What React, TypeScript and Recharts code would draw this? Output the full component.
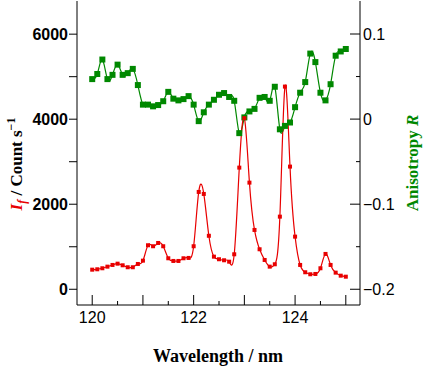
import { ComposedChart, Label, Line, XAxis, YAxis } from 'recharts';

const wavelength = [
    120.0, 120.1, 120.2, 120.3, 120.4, 120.5, 120.6, 120.7, 120.8, 120.9,
    121.0, 121.1, 121.2, 121.3, 121.4, 121.5, 121.6, 121.7, 121.8, 121.9,
    122.0, 122.1, 122.2, 122.3, 122.4, 122.5, 122.6, 122.7, 122.8, 122.9,
    123.0, 123.1, 123.2, 123.3, 123.4, 123.5, 123.6, 123.7, 123.8, 123.9,
    124.0, 124.1, 124.2, 124.3, 124.4, 124.5, 124.6, 124.7, 124.8, 124.9,
    125.0,
];

// fluorescence intensity, counts per second
const intensity = [
    461, 470, 494, 532, 572, 602, 564, 518, 518, 595,
    673, 1035, 1012, 1089, 1012, 729, 666, 666, 729, 737,
    1012, 2289, 2242, 1258, 767, 706, 682, 649, 823, 2861,
    4024, 2508, 1395, 941, 689, 532, 588, 1708, 4767, 2885,
    1238, 572, 400, 353, 360, 494, 831, 572, 391, 320,
    296,
];

const anisotropy = [
    0.047, 0.053, 0.07, 0.047, 0.052, 0.064, 0.052, 0.054, 0.059, 0.04,
    0.017, 0.017, 0.015, 0.0165, 0.021, 0.032, 0.024, 0.022, 0.0235, 0.027,
    0.017, -0.0024, 0.008, 0.017, 0.0227, 0.0286, 0.0306, 0.026, 0.0215, -0.0165,
    0.002, 0.009, 0.012, 0.025, 0.026, 0.0215, 0.038, -0.012, -0.008, -0.004,
    0.014, 0.031, 0.0435, 0.077, 0.067, 0.031, 0.022, 0.041, 0.0745, 0.0795,
    0.0824,
];

const xTicks = [120, 120.5, 121, 121.5, 122, 122.5, 123, 123.5, 124, 124.5, 125];
const xMajor = [120, 121, 122, 123, 124, 125];
const xLabels = [120, 122, 124];
const leftTicks = [0, 1000, 2000, 3000, 4000, 5000, 6000];
const leftLabels = [0, 2000, 4000, 6000];
const rightTicks = [-0.2, -0.15, -0.1, -0.05, 0, 0.05, 0.1];
const rightLabels = [-0.2, -0.1, 0, 0.1];

const data = wavelength.map((wl, i) => ({
    wl,
    intensity: intensity[i],
    anisotropy: anisotropy[i],
}));

const RED = '#e80000';
const GREEN = '#008800';
const SANS = 'Liberation Sans, Arial, sans-serif';
const SERIF = 'Liberation Serif, Times New Roman, serif';

const has = (list: number[], v: number) => list.some((b) => Math.abs(b - v) < 1e-6);

const fmtRight = (v: number) => (Math.abs(v) < 1e-9 ? '0' : v < 0 ? `\u2212${Math.abs(v)}` : `${v}`);

function BottomTick({ x, y, payload }: any) {
    const v = payload.value;
    const major = has(xMajor, v);
    return (
        <g>
            <line x1={x} x2={x} y1={y} y2={y - (major ? 10 : 4)} stroke="#000" />
            {has(xLabels, v) && (
                <text x={x} y={y + 18} textAnchor="middle" fontFamily={SANS} fontSize={16} fill="#000">
                    {v}
                </text>
            )}
        </g>
    );
}

function TopTick({ x, y, payload }: any) {
    const major = has(xMajor, payload.value);
    return <line x1={x} x2={x} y1={y} y2={y + (major ? 11 : 5)} stroke="#000" />;
}

function LeftTick({ x, y, payload }: any) {
    const v = payload.value;
    return (
        <g>
            <line x1={x - 8} x2={x} y1={y} y2={y} stroke="#000" />
            {has(leftLabels, v) && (
                <text x={x - 9} y={y + 6} textAnchor="end" fontFamily={SANS} fontWeight="bold" fontSize={16} fill="#000">
                    {v}
                </text>
            )}
        </g>
    );
}

function RightTick({ x, y, payload }: any) {
    const v = payload.value;
    const major = has(rightLabels, v);
    return (
        <g>
            <line x1={x - (major ? 10 : 4)} x2={x} y1={y} y2={y} stroke="#000" />
            {major && (
                <text x={x + 3} y={y + 6} textAnchor="start" fontFamily={SANS} fontSize={16} fill="#000">
                    {fmtRight(v)}
                </text>
            )}
        </g>
    );
}

const LeftTitle = () => (
    <text
        transform="translate(22, 164) rotate(-90)"
        x={0}
        y={0}
        textAnchor="middle"
        fontFamily={SERIF}
        fontWeight="bold"
        fontSize={17}
        fill="#000"
    >
        <tspan fill={RED} fontStyle="italic">I</tspan>
        <tspan fill={RED} fontStyle="italic" fontSize={12} dy={4}>f</tspan>
        <tspan dy={-4}> / Count s</tspan>
        <tspan fontSize={12} dy={-7}>{'\u22121'}</tspan>
    </text>
);

const RightTitle = () => (
    <text
        transform="translate(418, 163) rotate(-90)"
        x={0}
        y={0}
        textAnchor="middle"
        fontFamily={SERIF}
        fontWeight="bold"
        fontSize={17}
        fill={GREEN}
    >
        Anisotropy <tspan fontStyle="italic">R</tspan>
    </text>
);

const BottomTitle = () => (
    <text x={218} y={362} textAnchor="middle" fontFamily={SERIF} fontWeight="bold" fontSize={18} fill="#000">
        Wavelength / nm
    </text>
);

const RedDot = ({ cx, cy, index }: any) => (
    <rect key={`r${index}`} x={cx - 2} y={cy - 2} width={4} height={4} fill={RED} />
);

const GreenDot = ({ cx, cy, index }: any) => (
    <rect key={`g${index}`} x={cx - 3} y={cy - 3} width={6} height={6} fill={GREEN} />
);

export default function App() {
    return (
        <div style={{ position: 'absolute', left: 0, top: 0, background: '#fff' }}>
            <ComposedChart width={426} height={374} data={data} margin={{ top: 1, right: 0, bottom: 0, left: 0 }}>
                <XAxis
                    xAxisId="bottom"
                    dataKey="wl"
                    type="number"
                    domain={[119.7, 125.28]}
                    ticks={xTicks}
                    interval={0}
                    allowDataOverflow
                    height={69}
                    tickSize={0}
                    tickMargin={0}
                    tickLine={false}
                    tick={BottomTick}
                    axisLine={{ stroke: '#000' }}
                >
                    <Label content={BottomTitle} />
                </XAxis>
                <XAxis
                    xAxisId="top"
                    orientation="top"
                    dataKey="wl"
                    type="number"
                    domain={[119.7, 125.28]}
                    ticks={xTicks}
                    interval={0}
                    allowDataOverflow
                    height={0}
                    tickSize={0}
                    tickMargin={0}
                    tickLine={false}
                    tick={TopTick}
                    axisLine={{ stroke: '#000' }}
                />
                <YAxis
                    yAxisId="left"
                    type="number"
                    domain={[-370, 6780]}
                    ticks={leftTicks}
                    interval={0}
                    allowDataOverflow
                    width={77}
                    tickSize={0}
                    tickMargin={0}
                    tickLine={false}
                    tick={LeftTick}
                    axisLine={{ stroke: '#000' }}
                >
                    <Label content={LeftTitle} />
                </YAxis>
                <YAxis
                    yAxisId="right"
                    orientation="right"
                    type="number"
                    domain={[-0.2185, 0.1388]}
                    ticks={rightTicks}
                    interval={0}
                    allowDataOverflow
                    width={66}
                    tickSize={0}
                    tickMargin={0}
                    tickLine={false}
                    tick={RightTick}
                    axisLine={{ stroke: '#000' }}
                >
                    <Label content={RightTitle} />
                </YAxis>
                <Line
                    xAxisId="bottom"
                    yAxisId="right"
                    type="natural"
                    dataKey="anisotropy"
                    stroke={GREEN}
                    strokeWidth={1.2}
                    dot={GreenDot}
                    activeDot={false}
                    isAnimationActive={false}
                />
                <Line
                    xAxisId="bottom"
                    yAxisId="left"
                    type="natural"
                    dataKey="intensity"
                    stroke={RED}
                    strokeWidth={1.2}
                    dot={RedDot}
                    activeDot={false}
                    isAnimationActive={false}
                />
            </ComposedChart>
        </div>
    );
}
